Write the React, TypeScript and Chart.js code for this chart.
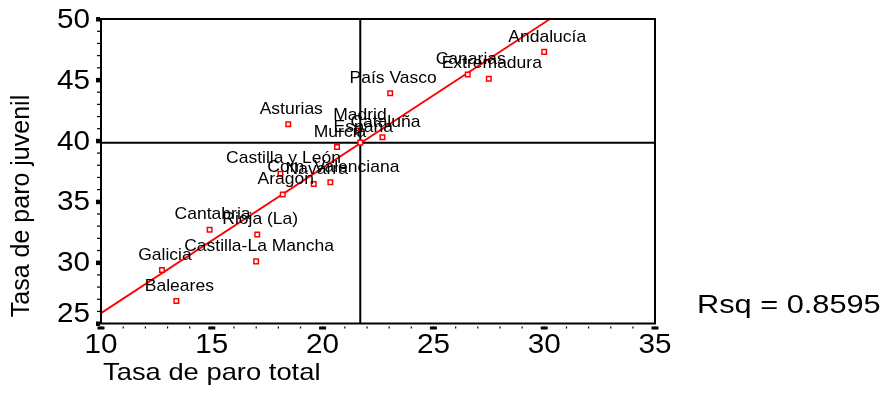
import React, { useEffect, useRef } from "react";
import { Chart, registerables } from "chart.js";

Chart.register(...registerables);

// Regional unemployment: total rate vs youth rate
const regions = [
  "Andalucía", "Canarias", "Extremadura", "País Vasco", "Asturias", "Madrid",
  "Cataluña", "España", "Murcia", "Castilla y León", "Com. Valenciana", "Navarra",
  "Aragón", "Cantabria", "Rioja (La)", "Castilla-La Mancha", "Galicia", "Baleares",
];
const paroTotal = [
  30.0, 26.55, 27.5, 23.05, 18.45, 21.55,
  22.7, 21.7, 20.65, 18.1, 20.35, 19.6,
  18.2, 14.9, 17.05, 17.0, 12.75, 13.4,
];
const paroJuvenil = [
  47.3, 45.45, 45.1, 43.9, 41.35, 40.85,
  40.3, 39.85, 39.5, 37.3, 36.6, 36.45,
  35.6, 32.7, 32.3, 30.1, 29.4, 26.85,
];

const xTicks = [10, 15, 20, 25, 30, 35];
const yTicks = [25, 30, 35, 40, 45, 50];

// Reference lines (national values) and linear fit
const refTotal = 21.7;
const refJuvenil = 39.85;
const fitIntercept = 13.93;
const fitSlope = 1.192;
const rsqLabel = "Rsq = 0.8595";

const xTitle = "Tasa de paro total";
const yTitle = "Tasa de paro juvenil";

const FONT = '"Liberation Sans", Arial, sans-serif';

function drawText(
  ctx: CanvasRenderingContext2D,
  s: string,
  x: number,
  y: number,
  size: number,
  align: CanvasTextAlign,
  sx = 1,
  rotate = false
) {
  ctx.save();
  ctx.translate(x, y);
  if (rotate) ctx.rotate(-Math.PI / 2);
  ctx.scale(sx, 1);
  ctx.font = `${size}px ${FONT}`;
  ctx.fillStyle = "#000";
  ctx.textAlign = align;
  ctx.textBaseline = "middle";
  ctx.fillText(s, 0, 0);
  ctx.restore();
}

const decorations = {
  id: "spssDecor",
  beforeDatasetsDraw(chart: any) {
    const { ctx, chartArea: a, scales } = chart;
    const px = scales.x.getPixelForValue(refTotal);
    const py = scales.y.getPixelForValue(refJuvenil);
    ctx.save();
    ctx.strokeStyle = "#000";
    ctx.lineWidth = 2;
    ctx.beginPath();
    ctx.moveTo(px, a.top);
    ctx.lineTo(px, a.bottom);
    ctx.moveTo(a.left, py);
    ctx.lineTo(a.right, py);
    ctx.stroke();
    ctx.restore();
  },
  afterDraw(chart: any) {
    const { ctx, chartArea: a, scales } = chart;
    const xs = scales.x;
    const ys = scales.y;
    ctx.save();

    // frame
    ctx.strokeStyle = "#000";
    ctx.lineWidth = 2;
    ctx.strokeRect(a.left, a.top, a.right - a.left, a.bottom - a.top);

    ctx.fillStyle = "#000";
    // y ticks: minor every unit, major every 5
    for (let v = 25; v <= 50; v++) {
      const y = ys.getPixelForValue(v);
      ctx.fillRect(a.left - 4, y - 0.5, 3, 1.2);
    }
    yTicks.forEach((v) => {
      const y = ys.getPixelForValue(v);
      ctx.fillRect(a.left - 5, y - 2, 4, 4.5);
      const ly = Math.min(y, a.bottom - 10);
      drawText(ctx, String(v), a.left - 11, ly + 1, 28, "right", 1.06);
    });
    // x ticks
    for (let v = 10; v <= 35; v++) {
      const x = xs.getPixelForValue(v);
      ctx.fillRect(x - 0.5, a.bottom + 3, 1.2, 2);
    }
    xTicks.forEach((v) => {
      const x = xs.getPixelForValue(v);
      ctx.fillRect(x - 3.5, a.bottom + 3, 7, 3);
      drawText(ctx, String(v), x, a.bottom + 22, 28, "center", 1.06);
    });

    // axis titles
    drawText(ctx, xTitle, 103, 373, 24, "left", 1.14);
    drawText(ctx, yTitle, 22, 206, 25, "center", 1, true);

    // fit statistic
    drawText(ctx, rsqLabel, 697, 306, 26.5, "left", 1.16);

    // point labels
    regions.forEach((name, i) => {
      const x = xs.getPixelForValue(paroTotal[i]);
      const y = ys.getPixelForValue(paroJuvenil[i]);
      drawText(ctx, name, x + 3, y - 15, 17, "center", 1.03);
    });
    ctx.restore();
  },
};

export default function App() {
  const ref = useRef<HTMLCanvasElement | null>(null);

  useEffect(() => {
    const canvas = ref.current;
    if (!canvas) return;
    const points = paroTotal.map((x, i) => ({ x, y: paroJuvenil[i] }));
    const fitLine = [10, 35].map((x) => ({ x, y: fitIntercept + fitSlope * x }));

    const chart = new Chart(canvas, {
      type: "scatter",
      data: {
        datasets: [
          {
            label: "Regiones",
            data: points,
            pointStyle: "rect",
            pointRadius: 3.2,
            pointBorderWidth: 1.5,
            borderColor: "#ff0000",
            backgroundColor: "#ffffff",
            order: 0,
          },
          {
            type: "line",
            label: "Ajuste lineal",
            data: fitLine,
            borderColor: "#ff0000",
            borderWidth: 1.8,
            pointRadius: 0,
            fill: false,
            clip: 0,
            order: 1,
          } as any,
        ],
      },
      options: {
        responsive: false,
        animation: false,
        devicePixelRatio: 1,
        layout: { padding: { left: 101, right: 233, top: 19, bottom: 91.5 } },
        plugins: {
          legend: { display: false },
          tooltip: { enabled: false },
        },
        scales: {
          x: { type: "linear", min: 10, max: 35, display: false },
          y: { type: "linear", min: 25, max: 50, display: false },
        },
      },
      plugins: [decorations],
    });
    return () => chart.destroy();
  }, []);

  return (
    <div style={{ position: "fixed", left: 0, top: 0, width: 888, height: 415, background: "#fff" }}>
      <canvas ref={ref} width={888} height={415} style={{ width: 888, height: 415, display: "block" }} />
    </div>
  );
}
